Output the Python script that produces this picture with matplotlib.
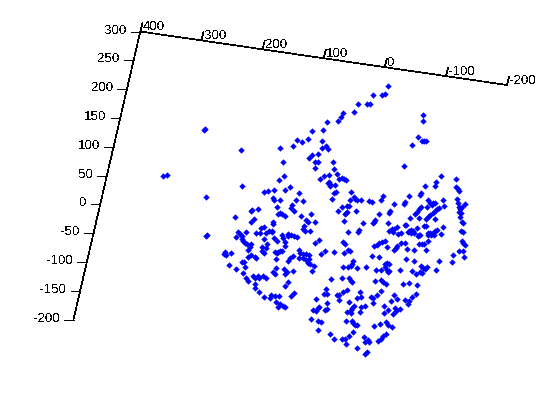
import numpy as np
import matplotlib
matplotlib.use("Agg")
import matplotlib.pyplot as plt

x_ticks = [400, 300, 200, 100, 0, -100, -200]
z_ticks = [300, 250, 200, 150, 100, 50, 0, -50, -100, -150, -200]

# projected positions of the 3D points (view coordinates)
view_x = [205,203.5,241,280,293.3,297.3,283.3,284.3,279.3,242,163.3,167.3,290.3,
 388.3,373.3,382.3,385.3,358.3,367.3,370.3,354.3,343.3,341.3,338.3,327.3,323.3,312.3,308.3,302.3,322.3,322.3,326.3,328.3,318.3,312.3,309.3,315.3,318.3,315.3,333.3,334.3,337.3,329.3,324.3,320.3,339.3,342.3,344.3,345.7,329.3,328.3,330.3,330.3,335.3,334.3,336.3,351.3,332.3,354.3,355.3,357.3,361.3,350.3,369.3,372.3,383.3,381.3,394.3,409.3,405.3,404.3,425.3,441.3,436.3,435.3,421.3,420.3,423.3,423.3,418.3,422.3,424.3,426.3,412.3,404.3,456.3,456.3,457.7,458.7,457.3,443.3,444.3,428.3,
 458.3,459.3,460.3,462.3,465,459.3,461.3,460.3,462.3,463.3,430.3,435.3,433.3,421.3,419.3,417.3,415.3,427.3,432.3,439.3,437.3,435.3,433.3,430.3,428.3,426.3,410.3,419.3,435.3,390,389,388.3,405.3,406.3,397.3,394.3,392.3,393.3,389.3,401.3,398.3,417.3,424.3,426.3,443.3,441.3,461.3,463.3,409.3,411.3,413.3,408.3,411.3,414.3,419.3,418.3,420.3,428.3,430.3,433.3,428.3,431.3,434.3,435.3,437.3,428.3,419.3,422.3,424.3,401.3,405.3,385.3,387.3,397.3,396.3,394.3,407.3,414.3,426.3,462.3,463.3,465,459.3,463.3,453.3,464.3,452.3,439.3,406.3,414.3,387.3,389.3,385.3,421.3,427.3,425.3,423.3,436.3,400.3,412.3,389.3,388.3,416.3,420.3,422.3,
 303.3,342.3,349.3,347.3,338.3,356.3,347.3,346.3,345.3,379.3,311.3,301.3,344.3,363.3,315.3,306.3,308.3,375.3,374.3,373.3,304.3,303.3,305.3,310.3,348.3,359.3,358.3,319.3,315.3,343.3,345.3,348.3,350.3,344.3,325.3,321.3,334.3,382.3,379.3,377.3,374.3,372.3,379.3,353.3,352.3,351.3,343.3,348.3,357.3,366.3,376.3,381.3,385.3,387.3,
 264.3,268.3,274.3,285.3,299.3,206.3,273.3,274.3,280.3,296.3,277.3,292.3,291.3,294.3,252.3,251.3,258.3,278.3,280.3,282.3,285.3,235.3,254.3,251.3,273.3,273.3,264.3,261.3,272,269.3,266.3,272.3,256.3,260.3,246.3,238.3,240.3,242.3,205.5,206.8,236.3,242.3,243.3,245.3,247.3,251.3,250.3,248.3,264.3,274.3,277.3,282.3,283.3,285.3,285.3,288.3,288.3,291.3,294.3,297.3,267.3,262.3,266.3,262.3,264.3,275.3,278.3,280.3,282.3,277.3,225.3,224.3,226.3,231.3,251.3,248.3,255.3,256.3,299.3,300.3,303.3,306.3,309.3,299.3,303.3,309.3,293.3,290.3,276.3,
 229.3,242.3,244.3,245.3,236.3,243.3,288.3,306.3,308.3,310.3,314.3,312.3,276.3,273.3,275.3,284.3,287.3,285.3,293.3,253.3,255.3,258.3,259.3,263.3,266.3,246.3,248.3,255.3,255.3,259.3,288.3,285.3,264.3,271.3,270.3,275.3,279.3,294.3,291.3,276.3,278.3,280.3,283.3,285.3,
 331.3,342.3,349.3,351.3,352.3,375.3,381.3,383.3,386.3,403.3,409.3,417.3,326.3,324.3,327.3,347.3,343.3,337.3,339.3,360.3,377.3,381.3,394.3,416.3,412.3,409.3,316.3,339.3,357.3,361.3,371.3,373.3,391.3,397.3,405.3,327.3,349.3,373.3,408.3,319.3,318.3,313.3,316.3,327.3,325.3,354.3,352.3,351.3,347.3,351.3,361.3,365.3,360.3,384.3,388.3,384.3,395.3,396.3,393.3,400.3,311.3,318.3,321.3,346.3,352.3,353.3,355.3,357.3,380.3,374.3,386.3,388.3,392.3,318.3,353.3,330.3,349.3,386.3,383.3,381.3,378.3,364.3,334.3,342.3,345.3,368.3,365.3,369.3,346.3,357.3,367.3,365.3]
view_y = [128.5,129.5,150,148,146.3,140.3,162.3,176,180.3,185.7,176.3,175.3,187.3,
 86.3,95.3,95.3,94.3,104.3,104.3,104.3,112.3,113.3,117.3,121.3,122.3,130.3,131.3,139.3,142.3,141.3,148.3,146.3,149.3,154.3,155.3,158.3,162.3,162.3,168.3,162.3,169.3,174.3,175.3,176.3,179.3,179.3,178.3,179.3,180.3,182.3,183.3,184.3,186,185.3,193.3,192.3,192.3,199.3,197.3,199.3,200.3,200.3,200.3,201.3,202.3,196.3,200.3,204.3,196.3,202.3,204.3,186.3,176.3,182.3,186.3,193.3,195.3,115.3,121.3,137.3,141.3,141.3,141.3,145.3,166.3,179.3,187.3,189.3,191,199.3,200.3,206.3,200.3,
 203.3,207.3,209.3,206.7,204,211.7,213.3,216.7,221.7,222.7,203.3,203.3,203.3,207.3,209.3,211.7,214.3,207.3,205.3,208.3,209.3,211.3,213.3,215.3,217.3,219.3,218.3,218.3,219.3,211.3,213.3,223.3,225.3,225.3,227.3,229.3,229.3,232.3,231.3,233.3,234.3,228.3,226.3,226.3,227.3,234.3,231.3,232.3,231.3,230.3,231.3,232.3,233.3,233.3,235.3,236.3,235.3,233.3,233.3,233.3,235.3,235.3,235.3,231.3,230.3,241.3,244.3,244.3,244.3,243.3,243.3,241.3,247.3,246.3,248.3,250.3,249.3,250.3,250.3,241.3,243.3,245,251.3,251.3,255.3,257.3,262.3,261.3,259.3,261.3,263.3,264.3,264.3,266.3,267.3,269.3,268.3,270.3,270.3,271.3,271.3,272.3,274.3,272.3,273.3,
 201.3,207.3,206.3,206.3,211.3,211.3,212.3,213.3,214.3,214.3,214.3,216.3,221.3,223.3,222.3,220.3,222.3,220.3,222.3,223.3,226.3,229.3,231.3,231.3,232.3,230.3,232.3,240.3,243.3,242.3,244.3,250,251.3,253.3,251.3,254.3,252.3,242.3,243.3,245.3,246.3,256.3,257.3,261.3,264.3,266.3,267.3,267.3,268.3,267.3,270.3,270.3,267.3,270,
 192.3,191.3,190.3,190.3,193.3,197.3,198.3,200,200.3,200.3,207.3,205.3,208.3,211.3,210.3,211.3,209.3,214.3,213.3,214.3,216.3,217.3,219.3,222.3,222.3,224.3,227.3,228.3,230.7,231.3,233.3,232.3,233.3,233.3,232.3,232.3,234.3,236.3,235.5,234.5,237.3,239.3,241.3,243.3,244.3,244.3,247.3,250.3,239.3,238.3,241.3,235.3,238.3,242.3,246.3,234.3,236.3,235.3,236.3,237.3,244.3,247.3,248.3,251.3,253.3,252.3,252.3,251.3,251.3,253.3,252.3,254.3,255.3,253.3,255.3,257.3,257.3,258.3,250.3,253.3,254.3,254.3,255.3,258.3,258.3,259.3,256.3,258.3,259.3,
 265.3,262.3,262.3,267.3,269.3,273.3,261.3,260.3,263.3,264.3,266.3,271.3,268.3,272.3,274.3,269.3,272.3,274.3,271.3,276.3,278.3,276.3,278.3,276.3,278.3,278.3,281.3,284.3,288.3,292.3,282.3,286.3,297.3,295.3,298.3,296.3,296.3,293.3,296.3,302.3,307.3,304.3,306.3,307.3,
 279.3,278.3,278.3,281.3,282.3,281.3,280.3,282.3,284.3,284.3,283.3,285.3,289.3,294.3,294.3,290.3,292.3,295.3,295.3,292.3,295.3,291.3,295.3,294.3,297.3,301.3,299.3,300.3,298.3,297.3,297.3,298.3,301.3,299.3,300.3,303.3,302.3,303.3,304.3,307.3,308.3,310.3,311.3,309.3,310.3,306.3,308.3,310.3,312.3,313.3,307.3,306.3,312.3,306.3,310.3,313.3,308.3,311.3,314.3,309.3,319.3,321.3,322.3,321.3,321.3,323.3,325.3,325.3,324.3,326.3,322.3,325.3,327.3,330.3,332.3,334.3,336.3,334.3,336.3,339.3,341.3,337.3,339.3,339.3,339.3,340.3,342.3,342.3,344.3,348.3,352.3,354.3]

plt.rcParams['font.family'] = ['Liberation Sans', 'DejaVu Sans']
plt.rcParams['text.antialiased'] = False

fig = plt.figure(figsize=(5.6, 4.2), dpi=100, facecolor='white')
ax = fig.add_axes([0, 0, 1, 1])
ax.set_xlim(0, 560)
ax.set_ylim(420, 0)
ax.axis('off')

# axis frame corners in view coordinates
top_left = np.array([140.3, 31.5])
top_right = np.array([507.0, 85.0])
bottom_left = np.array([73.5, 319.5])

line_kw = dict(color='black', lw=0.5, antialiased=False, solid_capstyle='butt')
ax.plot([bottom_left[0], top_left[0], top_right[0]],
        [bottom_left[1], top_left[1], top_right[1]], **line_kw)

n = len(x_ticks) - 1
for i, t in enumerate(x_ticks):
    p = top_left + (top_right - top_left) * i / n
    ax.plot([p[0], p[0] + 2.2], [p[1], p[1] - 8.8], **line_kw)
    ax.text(p[0] + 2.6, p[1] - 4.3, str(t), fontsize=9.6, ha='left', va='center', color='black')

m = len(z_ticks) - 1
for i, t in enumerate(z_ticks):
    p = top_left + (bottom_left - top_left) * i / m
    ax.plot([p[0] - 9.5, p[0]], [p[1], p[1]], **line_kw)
    ax.text(p[0] - 13.5, p[1] - 1.0, str(t), fontsize=9.6, ha='right', va='center', color='black')

ax.plot(view_x, view_y, linestyle='none', marker='D', markersize=2.9,
        markerfacecolor=(0, 0, 1), markeredgecolor=(0, 0, 1), markeredgewidth=0.3, antialiased=False)

fig.savefig('out.png', dpi=100, facecolor='white')
